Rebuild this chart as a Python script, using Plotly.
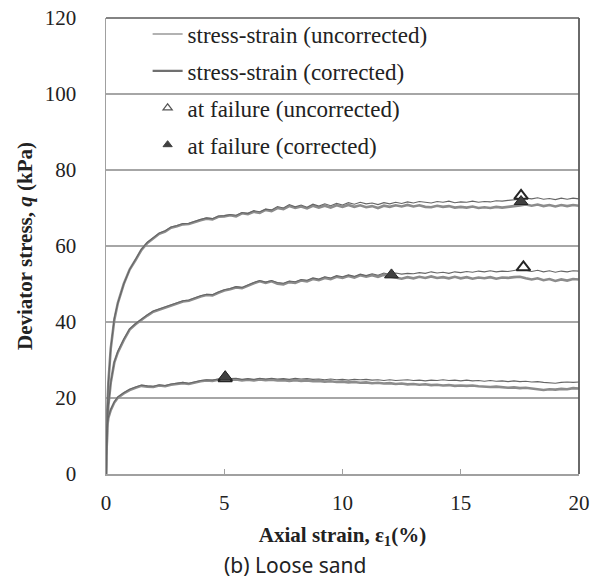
import plotly.graph_objects as go

# Axial strain (%) sample positions shared by all stress-strain curves
STRAIN = [0, 0.02, 0.05, 0.1, 0.2, 0.35, 0.5, 0.75, 1.0, 1.25, 1.5, 1.75,
          2.0, 2.25, 2.5, 2.75, 3.0, 3.25, 3.5, 3.75, 4.0, 4.25, 4.5, 4.75,
          5.0, 5.25, 5.5, 5.75, 6.0, 6.25, 6.5, 6.75, 7.0, 7.25, 7.5, 7.75,
          8.0, 8.25, 8.5, 8.75, 9.0, 9.25, 9.5, 9.75, 10.0, 10.25, 10.5, 10.75,
          11.0, 11.25, 11.5, 11.75, 12.0, 12.25, 12.5, 12.75, 13.0, 13.25, 13.5, 13.75,
          14.0, 14.25, 14.5, 14.75, 15.0, 15.25, 15.5, 15.75, 16.0, 16.25, 16.5, 16.75,
          17.0, 17.25, 17.5, 17.75, 18.0, 18.25, 18.5, 18.75, 19.0, 19.25, 19.5, 19.75,
          20.0]

# Deviator stress q (kPa) - highest confining pressure
Q_HIGH_UNCORR = [0, 8, 16, 24, 33, 41, 45, 50, 53.8, 56.5, 59.2, 61.0,
                 62.3, 63.4, 64.0, 65.0, 65.4, 65.9, 66.0, 66.6, 67.0, 67.4, 67.2, 67.9,
                 68.0, 68.3, 68.1, 68.8, 68.6, 69.3, 69.0, 69.7, 69.5, 70.4, 70.0, 70.9,
                 70.3, 70.8, 70.2, 71.0, 70.5, 71.1, 70.6, 71.2, 70.8, 71.4, 71.0, 71.5,
                 71.1, 71.3, 70.9, 71.4, 71.1, 71.5, 71.2, 71.6, 71.3, 71.7, 71.4, 71.3,
                 71.7, 71.5, 71.8, 71.4, 71.6, 71.5, 71.8, 71.5, 71.7, 71.6, 71.9, 71.8,
                 72.0, 72.1, 72.3, 72.6, 72.4, 72.7, 72.3, 72.5, 72.2, 72.6, 72.3, 72.6,
                 72.4]
Q_HIGH_CORR = [0, 8, 16, 24, 33, 40.5, 45, 50, 53.8, 56.3, 59.0, 60.8,
               62.0, 63.2, 63.8, 64.8, 65.2, 65.7, 65.8, 66.4, 66.8, 67.2, 67.0, 67.7,
               67.8, 68.1, 67.8, 68.6, 68.4, 69.0, 68.7, 69.5, 69.2, 70.0, 69.7, 70.5,
               70.0, 70.4, 69.9, 70.6, 70.1, 70.6, 70.1, 70.7, 70.3, 70.8, 70.3, 70.7,
               70.2, 70.5, 70.0, 70.6, 70.3, 70.7, 70.4, 70.8, 70.4, 70.7, 70.3, 70.2,
               70.6, 70.3, 70.5, 70.1, 70.3, 70.1, 70.4, 70.0, 70.2, 70.0, 70.3, 70.1,
               70.4, 70.5, 70.7, 70.9, 70.6, 70.9, 70.5, 70.8, 70.4, 70.8, 70.5, 70.8,
               70.6]

# Middle confining pressure
Q_MID_UNCORR = [0, 6, 12, 18, 24, 29.5, 32.3, 35.5, 38.2, 39.6, 40.8, 41.9,
                42.9, 43.4, 44.0, 44.6, 45.0, 45.6, 45.8, 46.4, 46.9, 47.3, 47.2, 47.9,
                48.5, 48.8, 49.3, 49.1, 49.8, 50.4, 50.9, 50.5, 50.9, 50.4, 50.2, 50.8,
                50.6, 51.2, 51.0, 51.6, 51.3, 51.9, 51.6, 52.2, 51.9, 52.4, 52.0, 52.6,
                52.2, 52.7, 52.3, 52.9, 52.5, 52.9, 52.6, 52.8, 52.7, 53.0, 52.8, 53.2,
                52.9, 53.1, 52.8, 53.2, 53.0, 53.3, 53.1, 53.4, 53.2, 53.5, 53.2, 53.4,
                53.3, 53.5, 53.8, 53.6, 53.3, 53.6, 53.2, 53.5, 53.1, 53.4, 53.2, 53.5,
                53.4]
Q_MID_CORR = [0, 6, 12, 18, 24, 29.3, 32.0, 35.2, 38.0, 39.4, 40.6, 41.7,
              42.7, 43.2, 43.8, 44.4, 44.8, 45.4, 45.6, 46.2, 46.7, 47.1, 47.0, 47.7,
              48.3, 48.6, 49.1, 48.9, 49.6, 50.2, 50.7, 50.3, 50.7, 50.1, 49.9, 50.5,
              50.3, 50.9, 50.7, 51.3, 51.0, 51.6, 51.3, 51.9, 51.6, 52.1, 51.7, 52.3,
              51.9, 52.3, 51.9, 52.4, 52.0, 51.7, 51.4, 51.8, 51.5, 51.9, 51.6, 52.0,
              51.6, 51.8, 51.5, 51.9, 51.5, 51.8, 51.4, 51.7, 51.5, 51.8, 51.4, 51.7,
              51.6, 51.8, 51.9, 51.5, 51.2, 51.5, 51.0, 51.3, 50.8, 51.2, 50.9, 51.3,
              51.2]

# Lowest confining pressure
Q_LOW_UNCORR = [0, 7, 12.5, 15.0, 17.0, 19.0, 20.3, 21.4, 22.3, 22.9, 23.4, 23.2,
                23.1, 23.5, 23.3, 23.7, 23.9, 24.1, 23.9, 24.3, 24.6, 24.8, 24.7, 25.0,
                25.3, 25.1, 25.2, 24.9, 25.1, 24.9, 25.2, 25.0, 25.2, 25.0, 25.1, 24.9,
                25.2, 25.0, 25.1, 24.9, 25.0, 24.8, 25.0, 24.8, 24.9, 24.7, 24.9, 24.8,
                24.9, 24.7, 24.8, 24.6, 24.8, 24.6, 24.7, 24.8, 24.6, 24.7, 24.5, 24.7,
                24.6, 24.8, 24.6, 24.7, 24.5, 24.7, 24.5, 24.6, 24.4, 24.6, 24.4, 24.5,
                24.3, 24.5, 24.3, 24.4, 24.2, 24.3, 24.1, 24.0, 23.9, 24.1, 24.2, 24.1,
                24.2]
Q_LOW_CORR = [0, 7, 12.3, 14.8, 16.8, 18.8, 20.1, 21.2, 22.1, 22.7, 23.2, 23.0,
              22.9, 23.3, 23.1, 23.5, 23.7, 23.9, 23.7, 24.1, 24.4, 24.6, 24.5, 24.8,
              25.0, 24.8, 24.9, 24.6, 24.8, 24.6, 24.9, 24.7, 24.8, 24.6, 24.7, 24.5,
              24.7, 24.5, 24.6, 24.4, 24.5, 24.3, 24.4, 24.2, 24.3, 24.1, 24.2, 24.0,
              24.1, 23.9, 24.0, 23.8, 23.9, 23.7, 23.8, 23.6, 23.7, 23.5, 23.6, 23.4,
              23.5, 23.3, 23.4, 23.2, 23.3, 23.2, 23.3, 23.1, 23.0, 22.9, 23.0, 22.8,
              22.7, 22.8, 22.6, 22.7, 22.5, 22.3, 22.1, 22.3, 22.2, 22.4, 22.3, 22.6,
              22.5]

# Failure points
FAIL_UNCORR_STRAIN = [5.04, 17.65, 17.55]
FAIL_UNCORR_Q = [25.2, 54.4, 73.2]
FAIL_CORR_STRAIN = [5.04, 12.07, 17.55]
FAIL_CORR_Q = [25.6, 52.4, 71.7]

for arr in (Q_HIGH_UNCORR, Q_HIGH_CORR, Q_MID_UNCORR, Q_MID_CORR, Q_LOW_UNCORR, Q_LOW_CORR):
    assert len(arr) == len(STRAIN), len(arr)

X_TICKS = [0, 5, 10, 15, 20]
Y_TICKS = [0, 20, 40, 60, 80, 100, 120]

LABEL_UNCORR = "stress-strain (uncorrected)"
LABEL_CORR = "stress-strain (corrected)"
LABEL_FAIL_UNCORR = "at failure (uncorrected)"
LABEL_FAIL_CORR = "at failure (corrected)"

C_UNCORR = "#666666"
C_CORR = "#8c8c8c"
SERIF = "Liberation Serif, Times New Roman, serif"

fig = go.Figure()

# corrected curves (thicker, lighter) drawn first
for q in [Q_HIGH_CORR, Q_MID_CORR, Q_LOW_CORR]:
    fig.add_trace(go.Scatter(x=STRAIN, y=q, mode="lines", name=LABEL_CORR,
                             line=dict(color=C_CORR, width=2.6),
                             legendgroup="b", legendrank=2, showlegend=False))
# uncorrected curves (thin, darker)
for q in [Q_HIGH_UNCORR, Q_MID_UNCORR, Q_LOW_UNCORR]:
    fig.add_trace(go.Scatter(x=STRAIN, y=q, mode="lines", name=LABEL_UNCORR,
                             line=dict(color=C_UNCORR, width=1.1),
                             legendgroup="a", legendrank=1, showlegend=False))

fig.add_trace(go.Scatter(x=FAIL_UNCORR_STRAIN, y=FAIL_UNCORR_Q, mode="markers",
                         name=LABEL_FAIL_UNCORR, showlegend=False,
                         marker=dict(symbol="triangle-up", size=12, color="white",
                                     line=dict(color="#262626", width=2))))
fig.add_trace(go.Scatter(x=FAIL_CORR_STRAIN, y=FAIL_CORR_Q, mode="markers",
                         name=LABEL_FAIL_CORR, showlegend=False,
                         marker=dict(symbol="triangle-up", size=12, color="#404040",
                                     line=dict(color="#262626", width=1))))

# legend entries
fig.add_trace(go.Scatter(x=[None], y=[None], mode="lines", name=LABEL_UNCORR,
                         line=dict(color=C_UNCORR, width=1.1),
                         legendgroup="a", legendrank=1))
fig.add_trace(go.Scatter(x=[None], y=[None], mode="lines", name=LABEL_CORR,
                         line=dict(color="#707070", width=2.2),
                         legendgroup="b", legendrank=2))
fig.add_trace(go.Scatter(x=[None], y=[None], mode="markers", name=LABEL_FAIL_UNCORR,
                         marker=dict(symbol="triangle-up", size=8, color="white",
                                     line=dict(color="#555555", width=1.2)),
                         legendgroup="c", legendrank=3))
fig.add_trace(go.Scatter(x=[None], y=[None], mode="markers", name=LABEL_FAIL_CORR,
                         marker=dict(symbol="triangle-up", size=8, color="#404040",
                                     line=dict(color="#404040", width=1)),
                         legendgroup="d", legendrank=4))

fig.update_layout(
    width=603, height=585,
    margin=dict(l=105.5, r=24, t=17.7, b=111.3, autoexpand=False),
    plot_bgcolor="white", paper_bgcolor="white",
    font=dict(family=SERIF, color="#222222"),
    hovermode=False,
    showlegend=True,
    legend=dict(x=0.088, y=1.012, xanchor="left", yanchor="top",
                bgcolor="rgba(0,0,0,0)", borderwidth=0,
                font=dict(family=SERIF, size=23, color="#222222"),
                traceorder="grouped", tracegroupgap=4, itemwidth=30),
    shapes=[
        dict(type="line", xref="paper", yref="paper", x0=0, x1=1, y0=1, y1=1,
             line=dict(color="#5a5a5a", width=1.5)),
        dict(type="line", xref="paper", yref="paper", x0=1, x1=1, y0=0, y1=1,
             line=dict(color="#5a5a5a", width=1.8)),
    ],
    annotations=[
        dict(text="(b) Loose sand", xref="paper", yref="paper", x=0.400, y=-0.200,
             xanchor="center", yanchor="middle", showarrow=False,
             font=dict(family="Noto Sans", size=21, color="#222222")),
    ],
)

fig.update_xaxes(range=[0, 20], tickvals=X_TICKS, ticktext=[str(v) for v in X_TICKS],
                 showgrid=False, zeroline=False,
                 showline=True, linecolor="#a0a0a0", linewidth=1.5,
                 ticks="inside", ticklen=5, tickcolor="#a0a0a0", tickwidth=1,
                 ticklabelstandoff=9, ticklabeloverflow="allow",
                 tickfont=dict(family=SERIF, size=21, color="#222222"),
                 title=dict(text="<b>Axial strain, ε<sub>1</sub>(%)</b>", standoff=13,
                            font=dict(family=SERIF, size=21, color="#222222")))
fig.update_yaxes(range=[0, 120], tickvals=Y_TICKS, ticktext=[str(v) for v in Y_TICKS],
                 showgrid=True, gridcolor="#a6a6a6", gridwidth=1.2, zeroline=False,
                 showline=True, linecolor="#a0a0a0", linewidth=1.5,
                 ticks="", ticklabelstandoff=24, ticklabeloverflow="allow",
                 tickfont=dict(family=SERIF, size=21, color="#222222"),
                 title=dict(text="<b>Deviator stress, <i>q</i> (kPa)</b>", standoff=6,
                            font=dict(family=SERIF, size=21, color="#222222")))

fig.write_html("out.html", config={"displayModeBar": False, "staticPlot": True})

# remove the default page margin so the figure fills the window exactly
with open("out.html", "r", encoding="utf-8") as f:
    html = f.read()
html = html.replace("<head>", "<head><style>html,body{margin:0;padding:0;}</style>", 1)
with open("out.html", "w", encoding="utf-8") as f:
    f.write(html)
